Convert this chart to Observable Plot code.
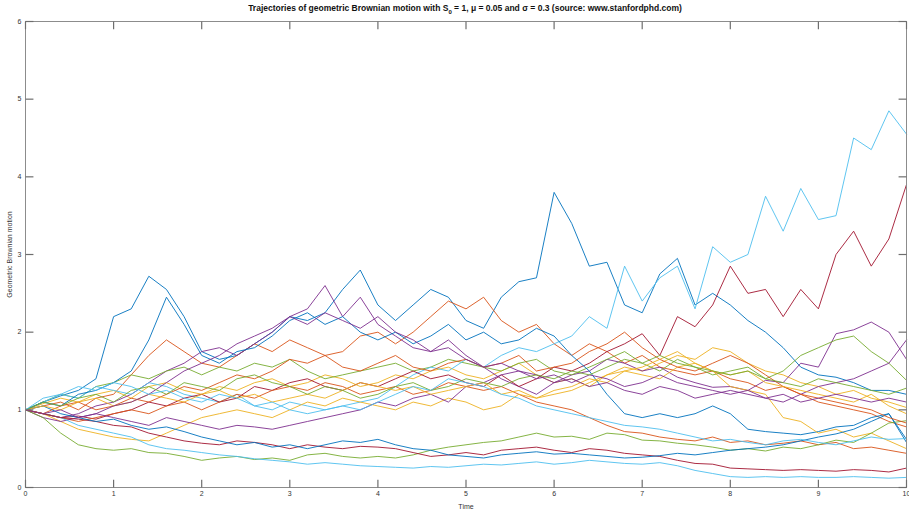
<!DOCTYPE html>
<html><head><meta charset="utf-8">
<script src="https://cdn.jsdelivr.net/npm/d3@7"></script>
<script src="https://cdn.jsdelivr.net/npm/@observablehq/plot@0.6"></script>
<style>
body{margin:0;background:#fff;font-family:"Liberation Sans",Arial,Helvetica,sans-serif;}
#title{box-sizing:border-box;width:909px;padding-left:21px;height:14px;line-height:16px;font-size:8.5px;font-weight:bold;text-align:center;color:#111;white-space:nowrap;}
#title sub{font-size:6px;line-height:0;}
</style></head><body>
<div id="title">Trajectories of geometric Brownian motion with S<sub>0</sub> = 1, μ = 0.05 and σ = 0.3 (source: www.stanfordphd.com)</div>
<div id="chart"></div>
<script>
const xTicks = [0,1,2,3,4,5,6,7,8,9,10];
const yTicks = [0,1,2,3,4,5,6];
const timeStep = 0.2;
const colors = ["#0072BD","#D95319","#EDB120","#7E2F8E","#77AC30","#4DBEEE","#A2142F"];

const s01 = [1.00,1.10,1.18,1.25,1.40,2.20,2.30,2.72,2.55,2.20,1.75, 1.65,1.70,1.85,2.00,2.20, 2.15,2.25,2.55,2.80,2.35, 2.15,2.35,2.55,2.45,2.15, 2.05,2.45,2.65,2.70,3.80, 3.40,2.85,2.90,2.35,2.25, 2.75,2.95,2.35,2.50,2.35, 2.15,2.00,1.80,1.55,1.45, 1.42,1.35,1.25,1.25,1.20];
const s02 = [1.0,1.05,1.1,1.0,1.15,1.2,1.45,1.7,1.9,1.75,1.6, 1.55,1.7,1.85,1.75,1.9, 1.8,1.7,1.75,1.95,2.0, 1.85,2.0,2.2,2.4,2.3, 2.45,2.15,2.0,2.1,1.85, 1.7,1.85,1.75,1.6,1.7, 1.55,1.5,1.45,1.5,1.4, 1.35,1.25,1.3,1.2,1.1, 1.05,1.0,0.95,0.85,0.78];
const s03 = [1.0,1.08,1.15,1.1,1.2,1.25,1.15,1.3,1.35,1.25,1.2, 1.3,1.25,1.35,1.4,1.3, 1.35,1.45,1.4,1.3,1.35, 1.45,1.4,1.5,1.55,1.45, 1.4,1.5,1.6,1.45,1.35, 1.4,1.3,1.45,1.55,1.5, 1.6,1.7,1.65,1.8,1.75, 1.6,1.5,1.45,1.35,1.3, 1.2,1.25,1.15,1.1,1.03];
const s04 = [1.0,0.95,0.9,0.95,1.05,1.1,1.2,1.35,1.5,1.6,1.75, 1.8,1.7,1.85,2.0,2.2, 2.3,2.6,2.2,2.45,2.1, 1.95,1.8,1.75,1.9,1.7, 1.55,1.4,1.3,1.2,1.35, 1.45,1.5,1.65,1.6,1.5, 1.55,1.42,1.35,1.29,1.3, 1.25,1.38,1.35,1.6,1.55, 1.98,2.03,2.13,2.0,1.65];
const s05 = [1.0,1.1,1.2,1.15,1.3,1.35,1.45,1.4,1.5,1.55,1.45, 1.55,1.5,1.6,1.55,1.65, 1.5,1.4,1.45,1.5,1.55, 1.6,1.5,1.55,1.65,1.6, 1.55,1.5,1.6,1.65,1.5, 1.45,1.55,1.65,1.75,1.6, 1.5,1.65,1.55,1.45,1.5, 1.55,1.4,1.5,1.7,1.8, 1.9,1.95,1.75,1.6,1.38];
const s06 = [1.0,1.1,1.2,1.15,1.3,1.25,1.2,1.35,1.3,1.2,1.15, 1.1,1.2,1.05,1.0,1.1, 1.05,1.0,1.05,1.1,1.15, 1.3,1.45,1.55,1.5,1.65, 1.55,1.7,1.8,1.75,1.85, 1.95,2.2,2.05,2.85,2.4, 2.7,2.85,2.3,3.1,2.9, 3.0,3.75,3.3,3.85,3.45, 3.5,4.5,4.35,4.85,4.55];
const s07 = [1.0,0.95,0.9,0.92,0.88,0.95,1.0,1.1,1.05,1.15,1.2, 1.1,1.15,1.3,1.25,1.35, 1.4,1.3,1.25,1.35,1.3, 1.4,1.5,1.4,1.45,1.35, 1.3,1.45,1.3,1.4,1.55, 1.5,1.6,1.75,1.85,1.98, 1.7,2.2,2.07,2.35,2.85, 2.5,2.55,2.2,2.55,2.3, 3.0,3.3,2.85,3.2,3.9];
const s08 = [1.0,1.1,1.05,1.2,1.25,1.35,1.5,1.9,2.45,2.1,1.7, 1.6,1.75,1.8,1.95,2.15, 2.25,2.1,2.2,2.0,1.9, 2.0,1.85,1.95,2.1,1.9, 2.0,1.85,1.9,2.05,1.95, 1.7,1.5,1.2,0.95,0.9, 0.95,0.9,0.95,1.05,0.95, 0.75,0.72,0.7,0.68,0.72, 0.78,0.8,0.9,0.95,0.58];
const s09 = [1.0,0.95,0.9,0.85,0.9,0.95,1.0,0.95,1.05,1.1,1.0, 1.1,1.2,1.15,1.25,1.3, 1.25,1.35,1.3,1.2,1.25, 1.3,1.2,1.25,1.35,1.3, 1.25,1.3,1.2,1.1,1.05, 1.0,0.9,0.8,0.72,0.7, 0.65,0.62,0.6,0.65,0.58, 0.6,0.55,0.57,0.6,0.55, 0.58,0.5,0.52,0.48,0.44];
const s10 = [1.0,0.95,0.85,0.75,0.7,0.65,0.62,0.6,0.7,0.8,0.9, 0.95,1.0,0.95,0.9,1.0, 1.1,1.05,1.15,1.1,1.05, 1.0,1.1,1.05,1.15,1.1, 1.0,1.05,1.2,1.15,1.25, 1.3,1.4,1.35,1.5,1.45, 1.4,1.55,1.6,1.5,1.3, 1.25,1.2,0.9,0.85,0.7, 0.75,0.65,0.7,0.6,0.5];
const s11 = [1.0,0.9,0.85,0.9,0.95,0.9,0.85,0.8,0.9,0.85,0.8, 0.75,0.8,0.78,0.75,0.8, 0.85,0.9,0.95,1.0,1.1, 1.05,1.15,1.2,1.1,1.3, 1.35,1.45,1.5,1.45,1.35, 1.4,1.3,1.35,1.25,1.2, 1.3,1.25,1.15,1.2,1.25, 1.2,1.15,1.1,1.2,1.3, 1.35,1.4,1.5,1.6,1.9];
const s12 = [1.0,0.9,0.7,0.55,0.5,0.48,0.5,0.45,0.44,0.4,0.35, 0.38,0.4,0.36,0.38,0.35, 0.42,0.44,0.4,0.38,0.4, 0.38,0.42,0.48,0.52,0.55, 0.58,0.6,0.65,0.7,0.65, 0.66,0.62,0.7,0.68,0.61, 0.6,0.57,0.55,0.52,0.48, 0.5,0.47,0.52,0.5,0.55, 0.61,0.58,0.7,0.83,0.86];
const s13 = [1.0,0.95,0.9,0.8,0.75,0.7,0.65,0.55,0.5,0.48,0.45, 0.42,0.4,0.37,0.35,0.33, 0.3,0.32,0.3,0.28,0.27, 0.26,0.25,0.27,0.26,0.28, 0.3,0.29,0.31,0.33,0.3, 0.32,0.35,0.33,0.31,0.3, 0.32,0.28,0.22,0.18,0.14, 0.13,0.14,0.13,0.14,0.13, 0.13,0.14,0.13,0.12,0.13];
const s14 = [1.0,0.95,0.9,0.88,0.85,0.8,0.78,0.7,0.65,0.6,0.57, 0.55,0.6,0.58,0.55,0.5, 0.55,0.52,0.5,0.53,0.52, 0.5,0.45,0.4,0.42,0.45, 0.42,0.48,0.5,0.52,0.48, 0.45,0.5,0.48,0.44,0.42, 0.4,0.35,0.31,0.3,0.25, 0.24,0.23,0.22,0.23,0.22, 0.21,0.23,0.22,0.2,0.25];
const s15 = [1.0,1.05,0.95,0.9,0.85,0.88,0.8,0.75,0.78,0.72,0.65, 0.6,0.55,0.58,0.52,0.55, 0.5,0.55,0.6,0.58,0.62, 0.55,0.5,0.48,0.42,0.4, 0.38,0.42,0.44,0.46,0.43, 0.44,0.42,0.4,0.38,0.39, 0.41,0.44,0.42,0.45,0.48, 0.5,0.52,0.55,0.6,0.65, 0.69,0.75,0.85,0.95,0.62];
const s16 = [1.0,0.95,1.05,1.1,1.0,1.05,1.15,1.1,1.2,1.3,1.25, 1.35,1.45,1.4,1.5,1.65, 1.6,1.7,1.55,1.5,1.6, 1.7,1.55,1.5,1.6,1.65, 1.55,1.6,1.7,1.5,1.55, 1.6,1.75,1.85,2.0,1.8, 1.65,1.55,1.5,1.6,1.7, 1.6,1.45,1.3,1.2,1.15, 1.1,1.05,1.0,0.9,0.83];
const s17 = [1.0,1.05,1.0,1.1,1.15,1.05,1.1,1.2,1.15,1.1,1.2, 1.25,1.15,1.2,1.1,1.15, 1.2,1.15,1.25,1.35,1.3, 1.25,1.3,1.2,1.25,1.3, 1.35,1.2,1.25,1.15,1.2, 1.25,1.35,1.45,1.5,1.55, 1.65,1.75,1.6,1.5,1.45, 1.5,1.35,1.3,1.25,1.2, 1.15,1.1,1.2,1.05,0.95];
const s18 = [1.0,0.95,1.0,0.9,0.95,1.05,1.1,1.2,1.35,1.5,1.6, 1.7,1.85,1.95,2.05,2.2, 2.1,2.25,2.15,2.05,2.2, 2.0,1.9,1.75,1.8,1.65, 1.55,1.6,1.5,1.4,1.45, 1.35,1.45,1.4,1.3,1.35, 1.45,1.35,1.3,1.25,1.2, 1.25,1.15,1.2,1.1,1.15, 1.2,1.15,1.1,1.15,1.1];
const s19 = [1.0,1.1,1.05,1.15,1.2,1.1,1.25,1.3,1.2,1.35,1.3, 1.25,1.4,1.45,1.35,1.3, 1.2,1.3,1.25,1.15,1.2, 1.3,1.35,1.25,1.3,1.4, 1.35,1.3,1.4,1.45,1.4, 1.5,1.45,1.55,1.65,1.6, 1.7,1.6,1.55,1.5,1.45, 1.5,1.4,1.35,1.3,1.4, 1.35,1.3,1.25,1.2,1.28];
const s20 = [1.0,1.15,1.2,1.3,1.25,1.35,1.3,1.2,1.25,1.15,1.1, 1.2,1.15,1.05,1.1,1.0, 0.95,1.0,1.05,1.0,1.1, 1.2,1.3,1.25,1.4,1.35, 1.3,1.2,1.15,1.05,1.0, 0.95,0.9,0.85,0.8,0.78, 0.75,0.7,0.65,0.6,0.62, 0.58,0.55,0.6,0.62,0.58, 0.55,0.6,0.65,0.62,0.63];

const series = [s01,s02,s03,s04,s05,s06,s07,s08,s09,s10,s11,s12,s13,s14,s15,s16,s17,s18,s19,s20];

const tickData = xTicks.map(t => ({t}));
const ytickData = yTicks.map(v => ({v}));

const lineMarks = series.map((s, k) => Plot.line(
  s.map((v, i) => ({t: i * timeStep, v})),
  {x: "t", y: "v", stroke: colors[k % colors.length], strokeWidth: 0.9}
));

const frameColor = "#8c8c8c";
const tickColor = "#6e6e6e";

const chart = Plot.plot({
  width: 909, height: 498,
  marginLeft: 25, marginRight: 3, marginTop: 7, marginBottom: 25,
  style: {fontSize: "7px", fontFamily: "Liberation Sans, Arial, Helvetica, sans-serif", color: "#333", background: "#fff", overflow: "visible"},
  x: {domain: [0, 10]},
  y: {domain: [0, 6]},
  marks: [
    ...lineMarks,
    Plot.frame({stroke: frameColor, strokeWidth: 1}),
    Plot.link(tickData, {x1: "t", x2: "t", y1: () => 0, y2: () => 0.1, stroke: tickColor, strokeWidth: 1.2}),
    Plot.link(tickData, {x1: "t", x2: "t", y1: () => 5.9, y2: () => 6, stroke: tickColor, strokeWidth: 1.2}),
    Plot.link(ytickData, {y1: "v", y2: "v", x1: () => 0, x2: () => 0.09, stroke: tickColor, strokeWidth: 1.2}),
    Plot.link(ytickData, {y1: "v", y2: "v", x1: () => 9.91, x2: () => 10, stroke: tickColor, strokeWidth: 1.2}),
    Plot.axisX({ticks: xTicks, tickSize: 0, tickPadding: 4, tickFormat: d => String(d), label: "Time", labelAnchor: "center", labelArrow: "none", labelOffset: 21, fill: "#333"}),
    Plot.axisY({ticks: yTicks, tickSize: 0, tickPadding: 4, tickFormat: d => String(d), label: "Geometric Brownian motion", labelAnchor: "center", labelArrow: "none", labelOffset: 18, fill: "#333"})
  ]
});
document.getElementById("chart").appendChild(chart);
</script>
</body></html>
